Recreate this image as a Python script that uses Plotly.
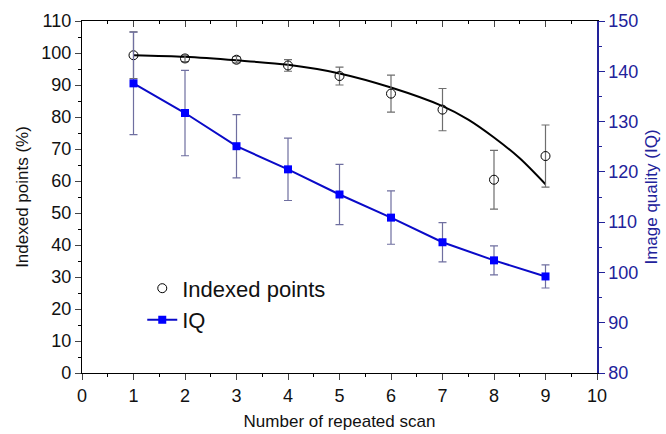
import plotly.graph_objects as go

scan = [1, 2, 3, 4, 5, 6, 7, 8, 9]
indexed = [99.3, 98.3, 97.9, 96.1, 92.8, 87.3, 82.3, 60.4, 67.8]
indexed_err = [7.3, 1.0, 1.0, 1.8, 2.8, 5.8, 6.6, 9.2, 9.7]
iq = [137.6, 131.7, 125.1, 120.5, 115.5, 110.9, 106.0, 102.4, 99.2]
iq_err = [10.2, 8.5, 6.3, 6.2, 6.0, 5.3, 3.9, 2.9, 2.3]
fit_x = [1, 2, 3, 4, 5, 6, 7, 7.5, 8, 8.5, 9]
fit_y = [99.3, 98.8, 97.7, 96.3, 93.6, 89.2, 83.4, 79.2, 73.6, 67.1, 59.0]

FONT = "Liberation Sans, Arial, sans-serif"
NAVY = "#22229a"

fig = go.Figure()

fig.add_trace(go.Scatter(
    x=fit_x, y=fit_y, mode="lines", line=dict(color="black", width=2, shape="spline", smoothing=0.8),
    showlegend=False, hoverinfo="skip"))

fig.add_trace(go.Scatter(
    x=scan, y=indexed, mode="markers", name="Indexed points", legendgroup="a",
    marker=dict(symbol="circle-open", size=9, color="black", line=dict(width=1)),
    error_y=dict(type="data", array=indexed_err, visible=True, color="#6e6e6e", thickness=1.2, width=4)))

fig.add_trace(go.Scatter(
    x=scan, y=iq, mode="lines+markers", name="IQ", yaxis="y2", legendgroup="b",
    line=dict(color="#0a0ac8", width=2),
    marker=dict(symbol="square", size=8, color="#0000ff"),
    error_y=dict(type="data", array=iq_err, visible=True, color="#6f6fa0", thickness=1.2, width=4)))

# invisible trace to activate top mirror axis
fig.add_trace(go.Scatter(x=[0], y=[0], xaxis="x2", mode="markers", marker=dict(opacity=0),
                         showlegend=False, hoverinfo="skip"))

tickfont = dict(family=FONT, size=18, color="#111")

fig.update_layout(
    width=666, height=434,
    margin=dict(l=82, r=69, t=21, b=61),
    paper_bgcolor="white", plot_bgcolor="white",
    font=dict(family=FONT),
    xaxis=dict(range=[0, 10], dtick=1, tick0=0, ticks="outside", ticklen=6, tickwidth=1.2,
               showline=True, linecolor="black", linewidth=1.2, showgrid=False, zeroline=False,
               tickfont=tickfont, automargin=False,
               minor=dict(dtick=0.5, ticks="outside", ticklen=3, tickcolor="black", tickwidth=1.2),
               title=dict(text="Number of repeated scan", font=dict(family=FONT, size=17, color="#111"), standoff=10)),
    xaxis2=dict(range=[0, 10], overlaying="x", side="top", dtick=1, tick0=0, ticks="inside", ticklen=6,
                tickwidth=1.2, showline=True, linecolor="black", linewidth=1.2, showticklabels=False,
                showgrid=False, zeroline=False, automargin=False,
                minor=dict(dtick=0.5, ticks="inside", ticklen=3, tickcolor="black", tickwidth=1.2)),
    yaxis=dict(range=[0, 110], dtick=10, tick0=0, ticks="outside", ticklen=6, tickwidth=1.2,
               showline=True, linecolor="black", linewidth=1.2, showgrid=False, zeroline=False,
               tickfont=tickfont, automargin=False,
               minor=dict(dtick=5, ticks="outside", ticklen=3, tickcolor="black", tickwidth=1.2),
               title=dict(text="Indexed points (%)", font=dict(family=FONT, size=17, color="#111"), standoff=8)),
    yaxis2=dict(range=[80, 150], dtick=10, tick0=80, overlaying="y", side="right", ticks="outside",
                ticklen=6, tickwidth=1.2, tickcolor=NAVY, automargin=False,
                showline=True, linecolor=NAVY, linewidth=1.5, showgrid=False, zeroline=False,
                tickfont=dict(family=FONT, size=18, color=NAVY),
                minor=dict(dtick=5, ticks="outside", ticklen=3, tickcolor=NAVY, tickwidth=1.2),
                title=dict(text="Image quality (IQ)", font=dict(family=FONT, size=17, color=NAVY), standoff=8)),
    legend=dict(x=0.117, y=0.30, xanchor="left", yanchor="top", bgcolor="rgba(0,0,0,0)",
                font=dict(family=FONT, size=22, color="#111"), traceorder="grouped", tracegroupgap=0),
)

fig.write_html("out.html")
